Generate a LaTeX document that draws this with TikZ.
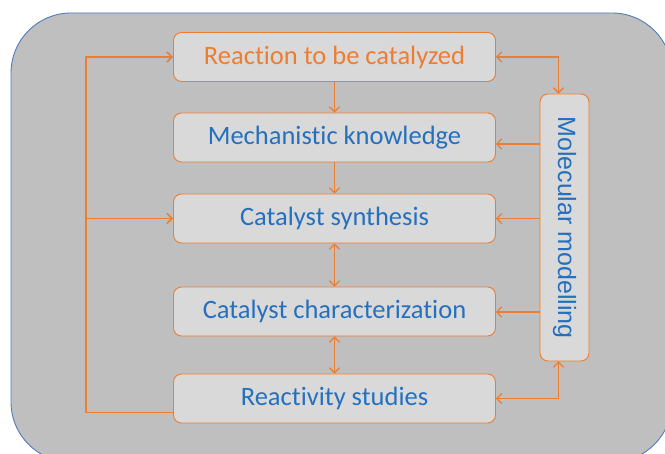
\documentclass[tikz,border=0pt]{standalone}
\usepackage{fontspec}
\setmainfont{Carlito}[Ligatures=CommonOff]
\newfontfamily\sidefont{Liberation Sans}
\usetikzlibrary{arrows.meta}

\definecolor{panelgray}{HTML}{BFBFBF}
\definecolor{panelblue}{HTML}{4F7CC0}
\definecolor{boxgray}{HTML}{D9D9D9}
\definecolor{stepred}{HTML}{ED7D31}
\definecolor{stepblue}{HTML}{2570BE}

\tikzset{
  stepbox/.style={draw=stepred, fill=boxgray, line width=0.9pt, rounded corners=8pt,
    minimum width=322pt, minimum height=49pt, inner sep=0pt,
    font=\fontsize{26.5}{30}\selectfont, text=stepblue},
  link/.style={draw=stepred, line width=1.2pt, -{Straight Barb[length=5pt,width=10pt]}},
  twoway/.style={link, {Straight Barb[length=5pt,width=10pt]}-{Straight Barb[length=5pt,width=10pt]}},
  feed/.style={link, line width=1.6pt}
}

\begin{document}
\begin{tikzpicture}[x=1pt,y=-1pt]
  \useasboundingbox (0,0) rectangle (665,454);
  % draw rounded background panel
  \fill[panelgray, draw=panelblue, line width=0.9pt, rounded corners=60pt] (11,13) rectangle (672,462);

  % steps
  \node[stepbox, text=stepred] (rc) at (334.5,57) {Reaction to be catalyzed};
  \node[stepbox] (mk) at (334.5,137.5) {Mechanistic knowledge};
  \node[stepbox] (cs) at (334.5,218.5) {Catalyst synthesis};
  \node[stepbox] (cc) at (334.5,311.5) {Catalyst characterization};
  \node[stepbox] (rs) at (334.5,398.5) {Reactivity studies};
  % rotated box: west is top, east is bottom, south is left
  \node[stepbox, rotate=-90, minimum width=267pt, minimum height=49pt,
    font=\sidefont\fontsize{25}{28}\selectfont] (mm) at (564.5,227.5) {Molecular modelling};

  % arrows down the middle
  \draw[link] (rc) -- (mk);
  \draw[link] (mk) -- (cs);
  \draw[twoway] (cs) -- (cc);
  \draw[twoway] (cc) -- (rs);

  % feedback loop on the left
  \coordinate (rsout) at ([yshift=-14pt]rs.west);
  \coordinate (loop) at (86,0);
  \draw[feed] (rsout) -| (loop |- rc.west) -- (rc.west);
  \draw[feed] (loop |- cs.west) -- (cs.west);

  % modelling links on the right
  \coordinate (mmtop) at ([xshift=-6pt]mm.west);
  \coordinate (mmbot) at ([xshift=-6pt]mm.east);
  \coordinate (mkin) at ([yshift=-6.5pt]mk.east);
  \coordinate (ccin) at ([yshift=-0.5pt]cc.east);
  \draw[twoway] (rc.east) -| (mmtop);
  \draw[twoway] (rs.east) -| (mmbot);
  \draw[link] (mkin -| mm.south) -- (mkin);
  \draw[link] (cs.east -| mm.south) -- (cs.east);
  \draw[link] (ccin -| mm.south) -- (ccin);
\end{tikzpicture}
\end{document}
